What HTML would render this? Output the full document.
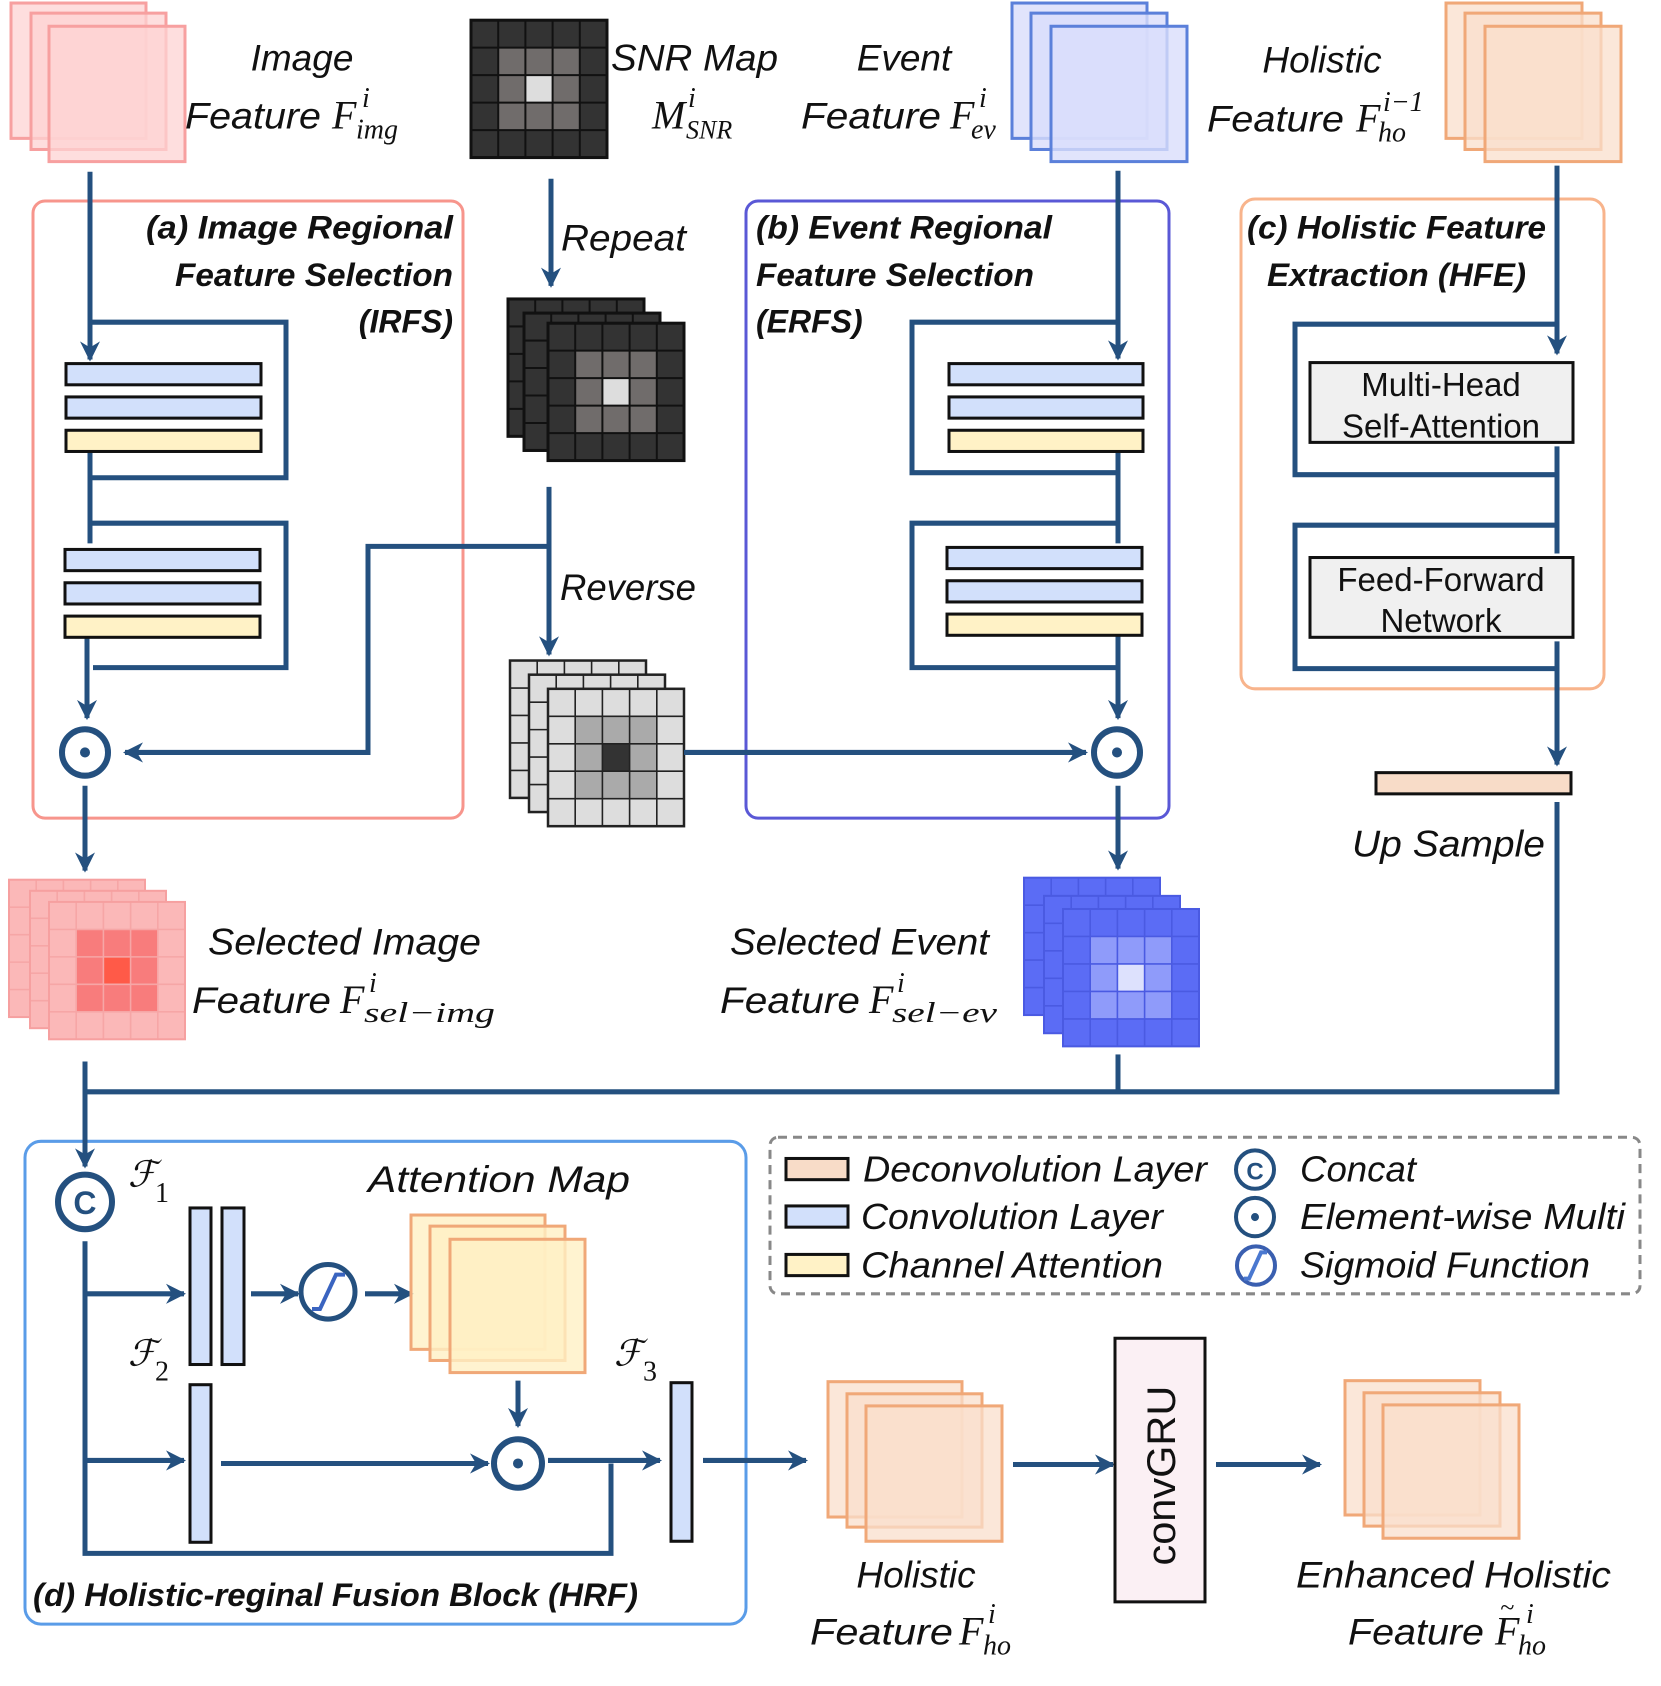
<!DOCTYPE html>
<html><head><meta charset="utf-8"><style>
html,body{margin:0;padding:0;background:#fff;}
svg{display:block;}
.t{font-family:"Liberation Sans",sans-serif;font-style:italic;fill:#111;}
.b{font-family:"Liberation Sans",sans-serif;font-style:italic;font-weight:bold;fill:#111;}
.m{font-family:"Liberation Serif",serif;font-style:italic;fill:#111;}
.n{font-family:"Liberation Sans",sans-serif;fill:#111;}
.ln{stroke:#24507f;stroke-width:5;fill:none;}
</style></head><body>
<svg width="1661" height="1686" viewBox="0 0 1661 1686" xmlns="http://www.w3.org/2000/svg">
<defs>
<marker id="ar" viewBox="0 0 10 10" refX="9" refY="5" markerWidth="4" markerHeight="4" orient="auto" markerUnits="strokeWidth">
<path d="M0,0 L10,5 L0,10 L3,5 z" fill="#24507f"/></marker>
<g id="gl"><path d="M27.2,0V136M54.4,0V136M81.6,0V136M108.8,0V136M0,27.2H136M0,54.4H136M0,81.6H136M0,108.8H136" fill="none"/></g>
<g id="snr"><rect x="0" y="0" width="136" height="136" fill="#333"/><rect x="27.2" y="27.2" width="81.6" height="81.6" fill="#706c6b"/><rect x="54.4" y="54.4" width="27.2" height="27.2" fill="#ddd"/><use href="#gl" stroke="#111" stroke-width="2"/><rect x="0" y="0" width="136" height="136" fill="none" stroke="#111" stroke-width="3"/></g>
<g id="rev"><rect x="0" y="0" width="136" height="136" fill="#ddd"/><rect x="27.2" y="27.2" width="81.6" height="81.6" fill="#aaa"/><rect x="54.4" y="54.4" width="27.2" height="27.2" fill="#333"/><use href="#gl" stroke="#222" stroke-width="1.6"/><rect x="0" y="0" width="136" height="136" fill="none" stroke="#222" stroke-width="2.5"/></g>
<g id="sim"><rect x="0" y="0" width="136" height="136" fill="#fbb8b8"/><rect x="27.2" y="27.2" width="81.6" height="81.6" fill="#f87c7c"/><rect x="54.4" y="54.4" width="27.2" height="27.2" fill="#ff5a48"/><use href="#gl" stroke="#f6a6a6" stroke-width="1.6"/><rect x="0" y="0" width="136" height="136" fill="none" stroke="#f6a0a0" stroke-width="2"/></g>
<g id="sev"><rect x="0" y="0" width="136" height="136" fill="#5b6cf5"/><rect x="27.2" y="27.2" width="81.6" height="81.6" fill="#8f9bfa"/><rect x="54.4" y="54.4" width="27.2" height="27.2" fill="#dde1fd"/><use href="#gl" stroke="#4a5ae2" stroke-width="1.6"/><rect x="0" y="0" width="136" height="136" fill="none" stroke="#4a5ae2" stroke-width="2"/></g>
</defs>
<g transform="scale(1,1.01)">
<!-- top stacks -->
<g fill="#fdd3d3" fill-opacity="0.75" stroke="#f7a0a0" stroke-width="3">
<rect x="11" y="3" width="135" height="134"/><rect x="31" y="13" width="135" height="135"/><rect x="49" y="26" width="136" height="134"/></g>
<g fill="#d9ddfb" fill-opacity="0.8" stroke="#5b80da" stroke-width="3">
<rect x="1012" y="3" width="135" height="134"/><rect x="1031" y="13" width="136" height="135"/><rect x="1051" y="26" width="136" height="134"/></g>
<g fill="#fadfcc" fill-opacity="0.75" stroke="#f0a878" stroke-width="3">
<rect x="1446" y="3" width="136" height="134"/><rect x="1465" y="13" width="136" height="135"/><rect x="1485" y="26" width="136" height="134"/></g>
<use href="#snr" x="471" y="20"/>

<!-- top labels -->
<text class="t" x="302" y="70" font-size="37" text-anchor="middle">Image</text>
<text class="t" x="185" y="127" font-size="37" textLength="136" lengthAdjust="spacingAndGlyphs">Feature</text>
<text class="m" x="332" y="127" font-size="40">F</text>
<text class="m" x="362" y="106" font-size="28">i</text>
<text class="m" x="356" y="137" font-size="28">img</text>

<text class="t" x="611" y="70" font-size="37" textLength="167" lengthAdjust="spacingAndGlyphs">SNR Map</text>
<text class="m" x="652" y="127" font-size="40">M</text>
<text class="m" x="688" y="106" font-size="28">i</text>
<text class="m" x="686" y="137" font-size="26">SNR</text>

<text class="t" x="904" y="70" font-size="37" text-anchor="middle">Event</text>
<text class="t" x="801" y="127" font-size="37" textLength="140" lengthAdjust="spacingAndGlyphs">Feature</text>
<text class="m" x="950" y="127" font-size="40">F</text>
<text class="m" x="979" y="106" font-size="28">i</text>
<text class="m" x="971" y="137" font-size="28">ev</text>

<text class="t" x="1322" y="72" font-size="37" text-anchor="middle">Holistic</text>
<text class="t" x="1207" y="130" font-size="37" textLength="137" lengthAdjust="spacingAndGlyphs">Feature</text>
<text class="m" x="1356" y="130" font-size="40">F</text>
<text class="m" x="1383" y="110" font-size="28">i−1</text>
<text class="m" x="1378" y="140" font-size="28">ho</text>

<!-- region boxes -->
<rect x="33" y="199" width="430" height="611" rx="12" fill="none" stroke="#f7958c" stroke-width="3"/>
<rect x="746" y="199" width="423" height="611" rx="12" fill="none" stroke="#5a58d6" stroke-width="3"/>
<rect x="1241" y="197" width="363" height="485" rx="14" fill="none" stroke="#f8b48c" stroke-width="3"/>
<rect x="25" y="1130" width="721" height="478" rx="16" fill="none" stroke="#5a9ce8" stroke-width="3"/>
<rect x="770" y="1126" width="870" height="155" rx="8" fill="none" stroke="#888" stroke-width="3" stroke-dasharray="9,6"/>

<text class="b" x="453" y="236" font-size="32" text-anchor="end" textLength="307" lengthAdjust="spacingAndGlyphs">(a) Image Regional</text>
<text class="b" x="453" y="283" font-size="32" text-anchor="end" textLength="278" lengthAdjust="spacingAndGlyphs">Feature Selection</text>
<text class="b" x="453" y="329" font-size="32" text-anchor="end">(IRFS)</text>
<text class="b" x="756" y="236" font-size="32" textLength="296" lengthAdjust="spacingAndGlyphs">(b) Event Regional</text>
<text class="b" x="756" y="283" font-size="32" textLength="278" lengthAdjust="spacingAndGlyphs">Feature Selection</text>
<text class="b" x="756" y="329" font-size="32">(ERFS)</text>
<text class="b" x="1247" y="236" font-size="32" textLength="299" lengthAdjust="spacingAndGlyphs">(c) Holistic Feature</text>
<text class="b" x="1267" y="283" font-size="32" textLength="259" lengthAdjust="spacingAndGlyphs">Extraction (HFE)</text>

<!-- IRFS -->
<path class="ln" d="M90,170V356" marker-end="url(#ar)"/>
<path class="ln" d="M90,319H286V473H90"/>
<path class="ln" d="M90,448V538"/>
<path class="ln" d="M90,518H286V661H93"/>
<path class="ln" d="M87,632V711" marker-end="url(#ar)"/>
<g stroke="#111" stroke-width="3">
<rect x="66" y="360" width="195" height="21" fill="#d2e0fb"/><rect x="66" y="393" width="195" height="21" fill="#d2e0fb"/><rect x="66" y="426" width="195" height="21" fill="#fff2c6"/>
<rect x="65" y="544" width="195" height="21" fill="#d2e0fb"/><rect x="65" y="577" width="195" height="21" fill="#d2e0fb"/><rect x="65" y="610" width="195" height="21" fill="#fff2c6"/>
</g>
<circle cx="85" cy="745" r="23" fill="#fff" stroke="#24507f" stroke-width="6"/><circle cx="85" cy="745" r="5" fill="#24507f"/>
<path class="ln" d="M549,541H368V745H125" marker-end="url(#ar)"/>
<path class="ln" d="M85,778V862" marker-end="url(#ar)"/>

<!-- SNR middle -->
<path class="ln" d="M551,177V283" marker-end="url(#ar)"/>
<text class="t" x="561" y="248" font-size="37" textLength="125" lengthAdjust="spacingAndGlyphs">Repeat</text>
<use href="#snr" x="508" y="296"/><use href="#snr" x="524" y="310"/><use href="#snr" x="548" y="320"/>
<path class="ln" d="M549,482V648" marker-end="url(#ar)"/>
<text class="t" x="560" y="594" font-size="37" textLength="136" lengthAdjust="spacingAndGlyphs">Reverse</text>
<use href="#rev" x="510" y="654"/><use href="#rev" x="529" y="668"/><use href="#rev" x="548" y="682"/>
<path class="ln" d="M684,745H1086" marker-end="url(#ar)"/>

<!-- ERFS -->
<path class="ln" d="M1118,169V355" marker-end="url(#ar)"/>
<path class="ln" d="M1118,319H912V468H1118"/>
<path class="ln" d="M1118,448V538"/>
<path class="ln" d="M1116,518H912V661H1118"/>
<path class="ln" d="M1118,630V711" marker-end="url(#ar)"/>
<g stroke="#111" stroke-width="3">
<rect x="949" y="360" width="194" height="21" fill="#d2e0fb"/><rect x="949" y="393" width="194" height="21" fill="#d2e0fb"/><rect x="949" y="426" width="194" height="21" fill="#fff2c6"/>
<rect x="947" y="542" width="195" height="21" fill="#d2e0fb"/><rect x="947" y="575" width="195" height="21" fill="#d2e0fb"/><rect x="947" y="608" width="195" height="21" fill="#fff2c6"/>
</g>
<circle cx="1117" cy="745" r="23" fill="#fff" stroke="#24507f" stroke-width="6"/><circle cx="1117" cy="745" r="5" fill="#24507f"/>
<path class="ln" d="M1118,778V860" marker-end="url(#ar)"/>

<!-- HFE -->
<path class="ln" d="M1557,164V350" marker-end="url(#ar)"/>
<path class="ln" d="M1557,321H1295V470H1557"/>
<path class="ln" d="M1557,442V548"/>
<path class="ln" d="M1557,520H1295V662H1557"/>
<path class="ln" d="M1557,635V757" marker-end="url(#ar)"/>
<rect x="1310" y="359" width="263" height="79" fill="#f0f0f0" stroke="#111" stroke-width="3"/>
<text class="n" x="1441" y="392" font-size="33" text-anchor="middle">Multi-Head</text>
<text class="n" x="1441" y="433" font-size="33" text-anchor="middle">Self-Attention</text>
<rect x="1310" y="552" width="263" height="79" fill="#f0f0f0" stroke="#111" stroke-width="3"/>
<text class="n" x="1441" y="585" font-size="33" text-anchor="middle">Feed-Forward</text>
<text class="n" x="1441" y="626" font-size="33" text-anchor="middle">Network</text>
<rect x="1376" y="765" width="195" height="21" fill="#f8dcc8" stroke="#111" stroke-width="3"/>
<text class="t" x="1352" y="848" font-size="37" textLength="193" lengthAdjust="spacingAndGlyphs">Up Sample</text>
<path class="ln" d="M1557,794V1081H85"/>
<path class="ln" d="M1118,1044V1081"/>

<!-- selected features -->
<use href="#sim" x="9" y="871"/><use href="#sim" x="30" y="882"/><use href="#sim" x="49" y="893"/>
<text class="t" x="208" y="945" font-size="37" textLength="273" lengthAdjust="spacingAndGlyphs">Selected Image</text>
<text class="t" x="192" y="1003" font-size="37" textLength="139" lengthAdjust="spacingAndGlyphs">Feature</text>
<text class="m" x="340" y="1003" font-size="40">F</text>
<text class="m" x="369" y="982" font-size="28">i</text>
<text class="m" x="364" y="1012" font-size="28" textLength="131" lengthAdjust="spacingAndGlyphs">sel−img</text>

<use href="#sev" x="1024" y="869"/><use href="#sev" x="1044" y="887"/><use href="#sev" x="1063" y="900"/>
<text class="t" x="730" y="945" font-size="37" textLength="259" lengthAdjust="spacingAndGlyphs">Selected Event</text>
<text class="t" x="720" y="1003" font-size="37" textLength="140" lengthAdjust="spacingAndGlyphs">Feature</text>
<text class="m" x="869" y="1003" font-size="40">F</text>
<text class="m" x="897" y="982" font-size="28">i</text>
<text class="m" x="892" y="1012" font-size="28" textLength="105" lengthAdjust="spacingAndGlyphs">sel−ev</text>

<!-- HRF -->
<path class="ln" d="M85,1051V1155" marker-end="url(#ar)"/>
<circle cx="85" cy="1190" r="27" fill="#fff" stroke="#24507f" stroke-width="6"/>
<text x="85" y="1202" font-family="Liberation Sans,sans-serif" font-weight="bold" font-size="32" fill="#24507f" text-anchor="middle">C</text>
<text x="128" y="1175" font-family="DejaVu Serif,serif" font-style="italic" font-size="36" fill="#111">ℱ</text>
<text x="155" y="1190" font-family="Liberation Serif,serif" font-size="28" fill="#111">1</text>
<text x="128" y="1352" font-family="DejaVu Serif,serif" font-style="italic" font-size="36" fill="#111">ℱ</text>
<text x="155" y="1367" font-family="Liberation Serif,serif" font-size="28" fill="#111">2</text>
<text x="614" y="1352" font-family="DejaVu Serif,serif" font-style="italic" font-size="36" fill="#111">ℱ</text>
<text x="643" y="1367" font-family="Liberation Serif,serif" font-size="28" fill="#111">3</text>
<text class="t" x="368" y="1180" font-size="37" textLength="262" lengthAdjust="spacingAndGlyphs">Attention Map</text>

<path class="ln" d="M85,1229V1538H611V1449"/>
<path class="ln" d="M85,1281H184" marker-end="url(#ar)"/>
<path class="ln" d="M85,1446H184" marker-end="url(#ar)"/>
<g stroke="#111" stroke-width="3" fill="#d2e0fb">
<rect x="190" y="1196" width="21" height="155"/><rect x="222" y="1196" width="22" height="155"/>
<rect x="190" y="1371" width="21" height="156"/><rect x="671" y="1369" width="21" height="157"/></g>
<path class="ln" d="M251,1281H298" marker-end="url(#ar)"/>
<circle cx="328" cy="1279" r="27" fill="#fff" stroke="#24507f" stroke-width="5"/>
<path d="M312,1296H320L336,1262H345" fill="none" stroke="#3a64c0" stroke-width="4"/>
<path class="ln" d="M365,1281H412" marker-end="url(#ar)"/>
<g fill="#fff0c4" fill-opacity="0.8" stroke="#f0a878" stroke-width="3">
<rect x="411" y="1203" width="134" height="133"/><rect x="430" y="1214" width="135" height="133"/><rect x="450" y="1227" width="135" height="132"/></g>
<path class="ln" d="M518,1367V1412" marker-end="url(#ar)"/>
<path class="ln" d="M221,1449H488" marker-end="url(#ar)"/>
<circle cx="518" cy="1449" r="24" fill="#fff" stroke="#24507f" stroke-width="6"/><circle cx="518" cy="1449" r="5" fill="#24507f"/>
<path class="ln" d="M548,1446H660" marker-end="url(#ar)"/>
<path class="ln" d="M703,1446H806" marker-end="url(#ar)"/>
<text class="b" x="33" y="1590" font-size="32" textLength="605" lengthAdjust="spacingAndGlyphs">(d) Holistic-reginal Fusion Block (HRF)</text>

<!-- legend -->
<g stroke="#111" stroke-width="3">
<rect x="786" y="1147" width="62" height="21" fill="#f8dcc8"/><rect x="786" y="1194" width="62" height="21" fill="#d2e0fb"/><rect x="786" y="1242" width="62" height="21" fill="#fff2c6"/></g>
<text class="t" x="863" y="1170" font-size="36" textLength="344" lengthAdjust="spacingAndGlyphs">Deconvolution Layer</text>
<text class="t" x="861" y="1217" font-size="36" textLength="302" lengthAdjust="spacingAndGlyphs">Convolution Layer</text>
<text class="t" x="861" y="1265" font-size="36" textLength="302" lengthAdjust="spacingAndGlyphs">Channel Attention</text>
<circle cx="1255" cy="1158" r="19" fill="#fff" stroke="#24507f" stroke-width="4"/>
<text x="1255" y="1168" font-family="Liberation Sans,sans-serif" font-weight="bold" font-size="24" fill="#24507f" text-anchor="middle">C</text>
<circle cx="1255" cy="1205" r="19" fill="#fff" stroke="#24507f" stroke-width="4"/><circle cx="1255" cy="1205" r="4" fill="#24507f"/>
<circle cx="1256" cy="1253" r="19" fill="#fff" stroke="#3a5fb0" stroke-width="4"/>
<path d="M1244,1266H1249L1261,1240H1267" fill="none" stroke="#4a78d0" stroke-width="4"/>
<text class="t" x="1300" y="1170" font-size="36" textLength="116" lengthAdjust="spacingAndGlyphs">Concat</text>
<text class="t" x="1300" y="1217" font-size="36" textLength="325" lengthAdjust="spacingAndGlyphs">Element-wise Multi</text>
<text class="t" x="1300" y="1265" font-size="36" textLength="290" lengthAdjust="spacingAndGlyphs">Sigmoid Function</text>

<!-- bottom right -->
<g fill="#fadfcc" fill-opacity="0.75" stroke="#f0a878" stroke-width="3">
<rect x="828" y="1368" width="134" height="134"/><rect x="847" y="1380" width="135" height="132"/><rect x="866" y="1392" width="136" height="134"/></g>
<path class="ln" d="M1013,1450H1113" marker-end="url(#ar)"/>
<rect x="1115" y="1325" width="90" height="261" fill="#fbf0f4" stroke="#111" stroke-width="3"/>
<text class="n" transform="translate(1175,1461) rotate(-90)" font-size="40" text-anchor="middle" textLength="178" lengthAdjust="spacingAndGlyphs">convGRU</text>
<path class="ln" d="M1216,1450H1320" marker-end="url(#ar)"/>
<g fill="#fadfcc" fill-opacity="0.75" stroke="#f0a878" stroke-width="3">
<rect x="1345" y="1367" width="135" height="133"/><rect x="1364" y="1379" width="136" height="132"/><rect x="1383" y="1391" width="136" height="132"/></g>

<text class="t" x="916" y="1572" font-size="37" text-anchor="middle">Holistic</text>
<text class="t" x="810" y="1628" font-size="37" textLength="143" lengthAdjust="spacingAndGlyphs">Feature</text>
<text class="m" x="959" y="1628" font-size="40">F</text>
<text class="m" x="988" y="1607" font-size="28">i</text>
<text class="m" x="983" y="1638" font-size="28">ho</text>

<text class="t" x="1296" y="1572" font-size="37" textLength="315" lengthAdjust="spacingAndGlyphs">Enhanced Holistic</text>
<text class="t" x="1348" y="1628" font-size="37" textLength="136" lengthAdjust="spacingAndGlyphs">Feature</text>
<text class="m" x="1495" y="1628" font-size="40">F</text>
<text class="m" x="1500" y="1600" font-size="26">~</text>
<text class="m" x="1526" y="1607" font-size="28">i</text>
<text class="m" x="1518" y="1638" font-size="28">ho</text>
</g>
</svg>
</body></html>
